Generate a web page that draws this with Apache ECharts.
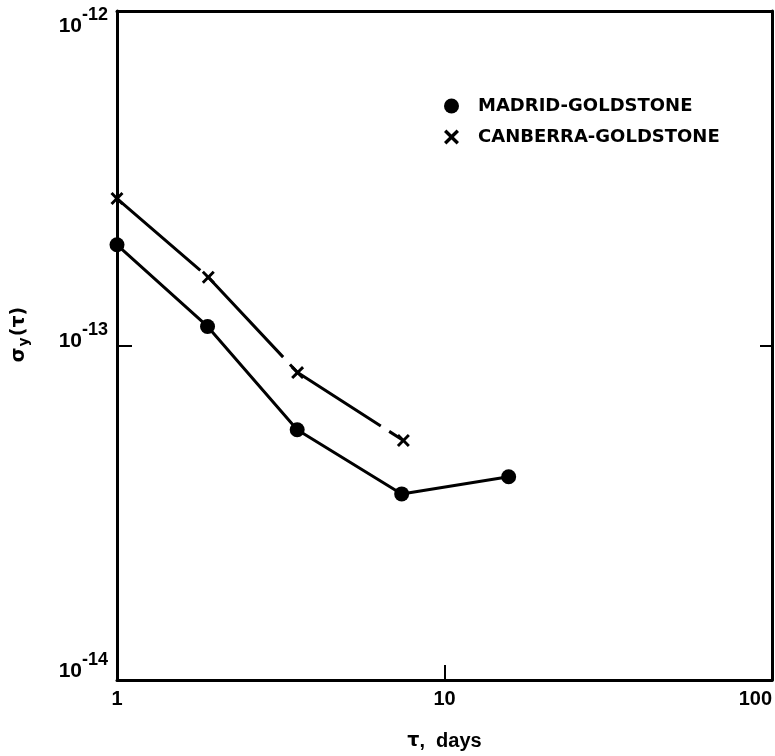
<!DOCTYPE html>
<html><head><meta charset="utf-8">
<script src="https://cdn.jsdelivr.net/npm/echarts@6/dist/echarts.min.js"></script>
<style>html,body{margin:0;padding:0;background:#fff}#c{width:775px;height:756px}</style>
</head><body><div id="c"></div>
<script>
// Data (tau in days, Allan deviation)
const tauMadrid = [1, 1.89, 3.55, 7.40, 15.7];
const sigmaMadrid = [2.0e-13, 1.14e-13, 5.6e-14, 3.6e-14, 4.05e-14];
const tauCanberra = [1, 1.90, 3.56, 7.49];
const sigmaCanberra = [2.75e-13, 1.60e-13, 8.3e-14, 5.2e-14];
const seriesNames = ['MADRID-GOLDSTONE', 'CANBERRA-GOLDSTONE'];
const xRange = [1, 100];
const yRange = [1e-14, 1e-12];

const xPath = 'path://M0,1.6 L1.6,0 L5,3.4 L8.4,0 L10,1.6 L6.6,5 L10,8.4 L8.4,10 L5,6.6 L1.6,10 L0,8.4 L3.4,5 Z';
const FONT = 'Liberation Sans';
const GREEK = 'DejaVu Sans';

function pair(xs, ys) { return xs.map((x, i) => [x, ys[i]]); }

const base = {color: '#000', fontFamily: FONT, fontWeight: 'bold', fontSize: 21};
const sup = {color: '#000', fontFamily: FONT, fontWeight: 'bold', fontSize: 18};
const rich = {
  b0: Object.assign({}, base, {padding: [30, 0, 0, 0]}),
  s0: Object.assign({}, sup, {padding: [30, 0, 22, 0]}),
  b1: Object.assign({}, base, {padding: [0, 0, 8, 0]}),
  s1: Object.assign({}, sup, {padding: [0, 0, 30, 0]}),
  b2: Object.assign({}, base, {padding: [0, 0, 18, 0]}),
  s2: Object.assign({}, sup, {padding: [0, 0, 40, 0]})
};

const chart = echarts.init(document.getElementById('c'), null, {renderer: 'canvas'});
const axisLineStyle = {color: '#000', width: 3};
chart.setOption({
  animation: false,
  backgroundColor: '#fff',
  grid: {left: 117, right: 3, top: 11, bottom: 65, containLabel: false},
  legend: {
    orient: 'vertical', left: 439, top: 92, itemWidth: 15, itemHeight: 15, itemGap: 13,
    textStyle: {fontFamily: 'DejaVu Sans', fontWeight: 'bold', fontSize: 18, color: '#000', padding: [0, 0, 0, 14]},
    data: [{name: seriesNames[0], icon: 'circle'}, {name: seriesNames[1], icon: xPath}]
  },
  xAxis: [{
    type: 'log', logBase: 10, min: xRange[0], max: xRange[1], interval: 1,
    position: 'bottom',
    axisLine: {show: true, onZero: false, lineStyle: axisLineStyle},
    axisTick: {show: true, inside: true, length: 15, lineStyle: {color: '#000', width: 2}},
    minorTick: {show: false}, splitLine: {show: false},
    axisLabel: {color: '#000', fontFamily: FONT, fontWeight: 'bold', fontSize: 20, margin: 9, alignMaxLabel: 'right',
      formatter: v => String(Math.round(v))},
    name: '{g|τ}{t|,  days}', nameLocation: 'middle', nameGap: 51,
    nameTextStyle: {rich: {
      g: {color: '#000', fontFamily: GREEK, fontWeight: 'bold', fontSize: 19},
      t: {color: '#000', fontFamily: FONT, fontWeight: 'bold', fontSize: 20}
    }}
  }, {
    type: 'log', logBase: 10, min: xRange[0], max: xRange[1], interval: 1,
    position: 'top',
    axisLine: {show: true, onZero: false, lineStyle: axisLineStyle},
    axisTick: {show: false}, axisLabel: {show: false}, splitLine: {show: false}
  }],
  yAxis: [{
    type: 'log', logBase: 10, min: yRange[0], max: yRange[1], interval: 1,
    position: 'left',
    axisLine: {show: true, onZero: false, lineStyle: axisLineStyle},
    axisTick: {show: true, inside: true, length: 15, lineStyle: {color: '#000', width: 2}},
    minorTick: {show: false}, splitLine: {show: false},
    axisLabel: {
      margin: 9,
      formatter: v => {
        const e = Math.round(Math.log10(v));
        const k = -12 - e; // 0 for top label, 1 middle, 2 bottom
        return '{b' + k + '|10}{s' + k + '|' + e + '}';
      },
      rich: rich
    },
    name: '{n|σ}{sub|y}{n|(τ)}', nameLocation: 'middle', nameGap: 86, nameRotate: 90,
    nameTextStyle: {
      padding: [0, 0, 0, 22],
      rich: {
        n: {color: '#000', fontFamily: GREEK, fontWeight: 'bold', fontSize: 19},
        sub: {color: '#000', fontFamily: GREEK, fontWeight: 'bold', fontSize: 14, padding: [10, 1, 0, 1]}
      }
    }
  }, {
    type: 'log', logBase: 10, min: yRange[0], max: yRange[1], interval: 1,
    position: 'right',
    axisLine: {show: true, onZero: false, lineStyle: axisLineStyle},
    axisTick: {show: true, inside: true, length: 12, lineStyle: {color: '#000', width: 2}},
    axisLabel: {show: false}, splitLine: {show: false}, minorTick: {show: false}
  }],
  series: [{
    name: seriesNames[0], type: 'line', xAxisIndex: 0, yAxisIndex: 0,
    data: pair(tauMadrid, sigmaMadrid),
    symbol: 'circle', symbolSize: 15, clip: false,
    itemStyle: {color: '#000'},
    lineStyle: {color: '#000', width: 3}
  }, {
    name: seriesNames[1], type: 'line', xAxisIndex: 0, yAxisIndex: 0,
    data: pair(tauCanberra, sigmaCanberra),
    symbol: xPath, symbolSize: 13, clip: false,
    itemStyle: {color: '#000'},
    lineStyle: {color: '#000', width: 3, type: [110, 10]}
  }]
});
</script>
</body></html>
